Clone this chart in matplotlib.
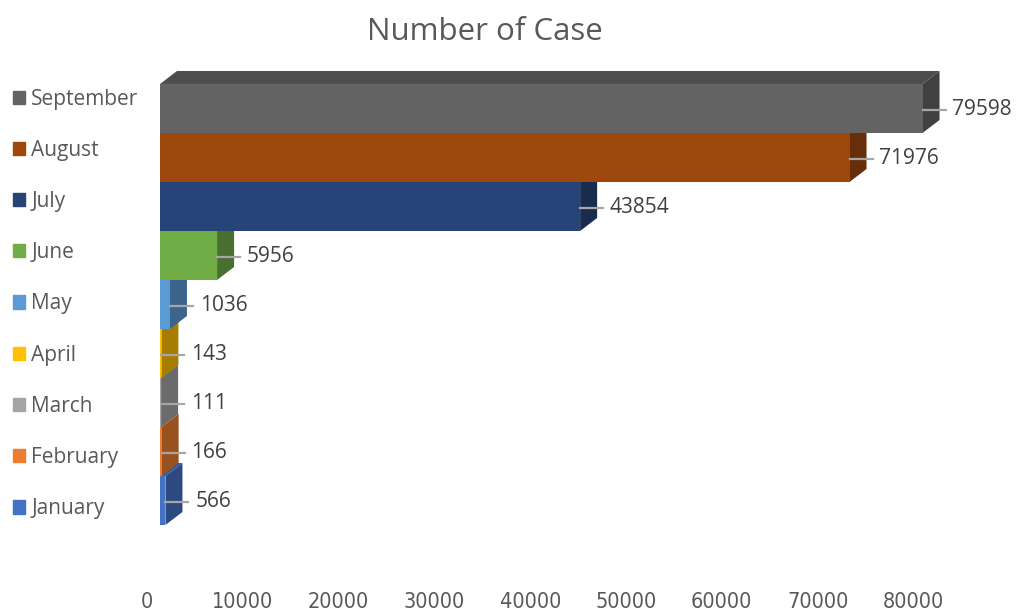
import matplotlib.pyplot as plt
import matplotlib.transforms as mtransforms
from matplotlib.patches import Polygon, Patch
from matplotlib.colors import to_rgb

# data (bottom to top)
months = ['January', 'February', 'March', 'April', 'May', 'June', 'July', 'August', 'September']
cases = [566, 166, 111, 143, 1036, 5956, 43854, 71976, 79598]
colors = ['#4472C4', '#ED7D31', '#A5A5A5', '#FFC000', '#5B9BD5', '#70AD47', '#264478', '#9E480E', '#636363']
xticks = [0, 10000, 20000, 30000, 40000, 50000, 60000, 70000, 80000]

plt.rcParams['font.family'] = ['Open Sans', 'DejaVu Sans']


def shade(c, f):
    r, g, b = to_rgb(c)
    return (r * f, g * f, b * f)


fig = plt.figure(figsize=(10.18, 6.13), dpi=100)
ax = fig.add_axes([0.1572, 0.1436, 0.8375, 0.7594])
ax.set_xlim(0, 89000)
ax.set_ylim(-0.5, 9.0)

# fake 3d depth
dx = 1775
dy = 0.265
h = 1.0

for i, (v, c) in enumerate(zip(cases, colors)):
    y0, y1 = i - h / 2, i + h / 2
    side = Polygon([(v, y0), (v, y1), (v + dx, y1 + dy), (v + dx, y0 + dy)],
                   closed=True, fc=shade(c, 0.65), ec='none')
    top = Polygon([(0, y1), (v, y1), (v + dx, y1 + dy), (dx, y1 + dy)],
                  closed=True, fc=shade(c, 0.78), ec='none')
    ax.add_patch(side)
    ax.add_patch(top)
    ax.barh(i, v, height=h, color=c, edgecolor='none')

# data labels with leader lines
for i, v in enumerate(cases):
    ax.plot([v, v + 2400], [i - 0.03, i - 0.03], color='#A6A6A6', lw=1.6, zorder=3)
    ax.text(v + 3100, i - 0.03, str(v), va='center', ha='left',
            fontsize=15, color='#404040')

for s in ax.spines.values():
    s.set_visible(False)
ax.set_yticks([])
ax.set_xticks(xticks)
ax.set_xticklabels([str(t) for t in xticks], fontsize=15.5, color='#595959',
                   family='DejaVu Sans', fontstretch='condensed')
ax.tick_params(axis='x', length=0, pad=48)
offset = mtransforms.ScaledTranslation(-13 / 100, 0, fig.dpi_scale_trans)
for lab in ax.get_xticklabels():
    lab.set_transform(lab.get_transform() + offset)

fig.text(485 / 1018, 1 - 32 / 613, 'Number of Case', ha='center', va='center',
         fontsize=22.5, color='#595959')

handles = [Patch(color=c, label=m) for m, c in zip(months, colors)][::-1]
fig.legend(handles=handles, loc='upper left', bbox_to_anchor=(-0.002, 1 - 74 / 613),
           frameon=False, fontsize=15, labelcolor='#595959',
           handlelength=0.6, handleheight=0.6, handletextpad=0.3,
           labelspacing=1.45, borderaxespad=0.3)

fig.savefig('out.png', dpi=100)
